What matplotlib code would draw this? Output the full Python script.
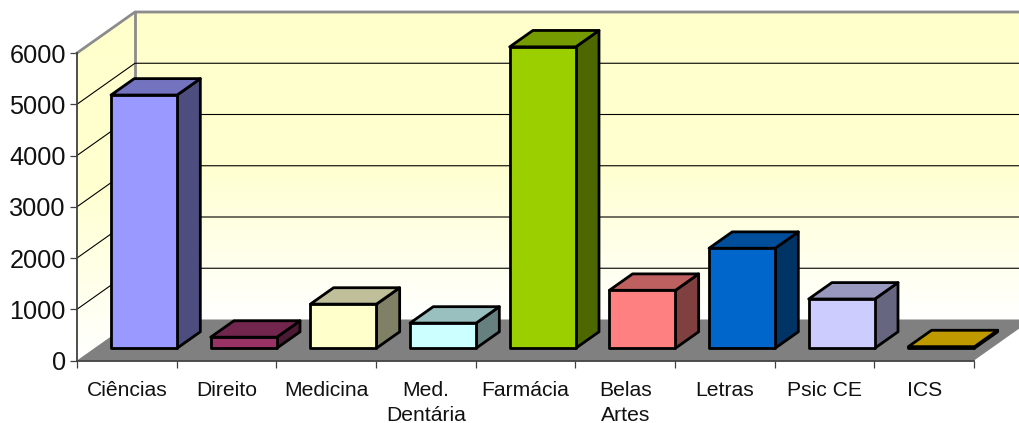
import numpy as np
import matplotlib
matplotlib.use("Agg")
import matplotlib.pyplot as plt
from matplotlib.patches import Polygon
from matplotlib.colors import to_rgb, LinearSegmentedColormap

categories = ["Ciências", "Direito", "Medicina", "Med.\nDentária", "Farmácia", "Belas\nArtes", "Letras", "Psic CE", "ICS"]
values = [4940, 215, 860, 490, 5880, 1130, 1950, 960, 30]
colors = ["#9999FF", "#993366", "#FFFFCC", "#CCFFFF", "#9CCF00", "#FF8080", "#0066CC", "#CCCCFF", "#FFCC00"]
yticks = [0, 1000, 2000, 3000, 4000, 5000, 6000]

W, H = 1019, 423
plt.rcParams["font.family"] = ["Liberation Sans", "DejaVu Sans"]
fig = plt.figure(figsize=(W / 100, H / 100), dpi=100, facecolor="white")
ax = fig.add_axes([77 / W, (H - 360.5) / H, (974 - 77) / W, 307.5 / H])
ax.set_xlim(0, 9)
ax.set_ylim(0, 6000)

# oblique projection: depth 0..1 maps to a shift in data units
DX = 58 / (897 / 9)
DY = 41 / (307.5 / 6000)


def proj(x, y, d):
    return (x + d * DX, y + d * DY)


def poly(pts, **kw):
    kw.setdefault("clip_on", False)
    ax.add_patch(Polygon(pts, closed=True, **kw))


# walls with vertical gradient
cmap = LinearSegmentedColormap.from_list("wall", ["#FFFFCC", "#FFFFD0", "#FFFFFF"])
grad = np.linspace(0, 1, 256).reshape(-1, 1)
back = [proj(0, 0, 1), proj(9, 0, 1), proj(9, 6000, 1), proj(0, 6000, 1)]
left = [proj(0, 0, 0), proj(0, 0, 1), proj(0, 6000, 1), proj(0, 6000, 0)]
poly_back = Polygon(back, closed=True, transform=ax.transData, fc="none", ec="none")
poly_left = Polygon(left, closed=True, transform=ax.transData, fc="none", ec="none")
ax.add_patch(poly_back)
ax.add_patch(poly_left)
im1 = ax.imshow(grad, cmap=cmap, aspect="auto", zorder=0,
                extent=(0, 9 + DX, 0 + DY, 6000 + DY))
im1.set_clip_path(poly_back)
im1.set_clip_box(fig.bbox)
im2 = ax.imshow(grad, cmap=cmap, aspect="auto", zorder=0,
                extent=(0, DX, 0, 6000 + DY))
im2.set_clip_path(poly_left)
im2.set_clip_box(fig.bbox)
ax.set_xlim(0, 9)
ax.set_ylim(0, 6000)

# floor
poly([proj(0, 0, 0), proj(9, 0, 0), proj(9, 0, 1), proj(0, 0, 1)], fc="#808080", ec="none", zorder=1)

# gridlines
for v in yticks[1:-1]:
    xs, ys = zip(proj(0, v, 0), proj(0, v, 1), proj(9, v, 1))
    ax.plot(xs, ys, color="black", lw=0.8, zorder=1.5, clip_on=False, solid_joinstyle="miter")

# wall border
xs, ys = zip(proj(0, 6000, 0), proj(0, 6000, 1), proj(9, 6000, 1))
ax.plot(xs, ys, color="#8C8C8C", lw=2.0, zorder=1.6, clip_on=False)
xs, ys = zip(proj(0, 0, 1), proj(0, 6000, 1))
ax.plot(xs, ys, color="#8C8C8C", lw=2.0, zorder=1.2, clip_on=False)

# bars
D0, D1 = 0.30, 0.70
X0, X1 = 0.167, 0.83
for i, (v, c) in enumerate(zip(values, colors)):
    rgb = np.array(to_rgb(c))
    l, r = i + X0, i + X1
    edge = dict(ec="black", lw=2.0, joinstyle="round", zorder=3 + i * 0.01)
    poly([proj(r, 0, D0), proj(r, 0, D1), proj(r, v, D1), proj(r, v, D0)], fc=rgb * 0.5, **edge)
    poly([proj(l, v, D0), proj(r, v, D0), proj(r, v, D1), proj(l, v, D1)], fc=rgb * 0.75, **edge)
    poly([proj(l, 0, D0), proj(r, 0, D0), proj(r, v, D0), proj(l, v, D0)], fc=rgb, **edge)

# axes and ticks
for s in ("top", "right"):
    ax.spines[s].set_visible(False)
for s in ("left", "bottom"):
    ax.spines[s].set_color("#404040")
    ax.spines[s].set_linewidth(1.3)
    ax.spines[s].set_zorder(5)
ax.set_yticks(yticks)
ax.set_yticklabels([str(t) for t in yticks], fontsize=18.2, color="#111111")
ax.set_xticks(np.arange(0, 10))
ax.set_xticklabels([])
ax.set_xticks(np.arange(9) + 0.5, labels=categories, minor=True, fontsize=15.2,
              color="#111111", linespacing=1.38)
ax.tick_params(axis="both", which="major", length=5, width=0.9, color="#404040")
ax.tick_params(axis="y", pad=3)
ax.tick_params(axis="x", which="minor", length=0, pad=15)

fig.savefig("out.png", dpi=100, facecolor="white")
